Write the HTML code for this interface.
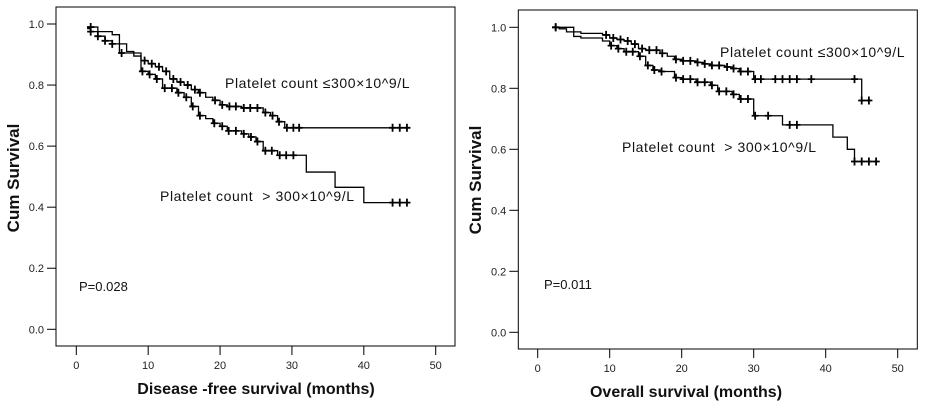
<!DOCTYPE html>
<html><head><meta charset="utf-8">
<style>
html,body{margin:0;padding:0;background:#fff;}
svg{display:block;font-family:"Liberation Sans",Arial,sans-serif;}
</style></head>
<body>
<svg id="fig" width="926" height="405" viewBox="0 0 926 405"></svg>
<script>
// ---- Data: left chart (disease-free survival) ----
const dfsLowTimes = [1.5,3,5,6,7,8,9,10,11,12,13,14,15,16,17,18,19,20,21,23,26,27,28,29];
const dfsLowSurv  = [0.99,0.975,0.965,0.935,0.91,0.895,0.88,0.87,0.86,0.845,0.82,0.81,0.80,0.785,0.775,0.76,0.75,0.735,0.73,0.725,0.71,0.70,0.68,0.66];
const dfsLowEnd = 46;
const dfsLowCens = [2,9.5,10.5,11.5,12.5,13.5,14.5,15.5,16.5,17.2,19.3,20.3,21.3,22.2,23.3,24.2,25.2,26.3,27.3,28.2,29.3,30.2,31,44,45,46];
const dfsHighTimes = [1.5,2,3,4,5,6,9,10,11,12,14,15,16,17,18,19,20,21,23,24,25,26,28,32,36,40];
const dfsHighSurv  = [0.985,0.975,0.96,0.945,0.935,0.905,0.845,0.835,0.82,0.79,0.775,0.76,0.73,0.70,0.69,0.675,0.665,0.65,0.64,0.63,0.615,0.585,0.57,0.515,0.465,0.415];
const dfsHighEnd = 46;
const dfsHighCens = [2,3,4,5,6.3,9.2,10.2,11.2,12.3,13.3,14.2,15.3,16.2,17.2,19.2,20.3,21.2,22.2,23.3,24.3,25.2,26.3,27.2,28.3,29.2,30.2,44,45,46];

// ---- Data: right chart (overall survival) ----
const osLowTimes = [2,5,6,9,10,11,12,13,14,15,17,18,19,20,22,23,24,26,27,28,30,45];
const osLowSurv  = [1.0,0.985,0.98,0.975,0.965,0.96,0.955,0.945,0.93,0.925,0.915,0.905,0.895,0.89,0.885,0.88,0.875,0.87,0.865,0.855,0.83,0.76];
const osLowEnd = 46.3;
const osLowCens = [2.5,9.5,10.5,11.5,12.5,13.5,14.5,15.5,16.5,17.3,19.2,20.2,21.2,22.2,23.2,24.2,25.2,26.3,27.2,28.2,29.2,30.2,31,33,34,35,36,38,44,45,46];
const osHighTimes = [2,3,4,5,6,9,10,11,12,14,15,16,17,19,20,22,24,25,27,28,30,34,41,43,44];
const osHighSurv  = [1.0,0.995,0.985,0.97,0.965,0.955,0.94,0.93,0.92,0.905,0.875,0.86,0.855,0.835,0.83,0.82,0.81,0.79,0.78,0.765,0.71,0.68,0.64,0.60,0.56];
const osHighEnd = 47.5;
const osHighCens = [2.5,10.2,11.2,12.3,13.2,14.2,15.3,16.2,17.2,19.2,20.2,21.2,22.2,23.2,24.2,25.2,26.2,27.2,28.2,29.2,30.2,32,35,36,44,45,46,47];

const xTicks = [0,10,20,30,40,50];
const yTicks = [0,0.2,0.4,0.6,0.8,1.0];

const NS = "http://www.w3.org/2000/svg";
const svg = document.getElementById('fig');
function mk(tag, attrs, parent){
  const e = document.createElementNS(NS, tag);
  for (const k in attrs) e.setAttribute(k, attrs[k]);
  (parent||svg).appendChild(e);
  return e;
}

function stepValue(times, surv, t){
  let v = 1.0;
  for (let i=0;i<times.length;i++){ if (times[i] <= t) v = surv[i]; }
  return v;
}

function drawChart(cfg){
  const g = mk('g', {});
  
  
  const xs = t => cfg.x0 + (t/50)*(cfg.x50 - cfg.x0);
  const ys = v => cfg.y0 - v*(cfg.y0 - cfg.y1);
  const frame = mk('rect', {x:cfg.fl, y:cfg.ft, width:cfg.fr-cfg.fl, height:cfg.fb-cfg.ft, fill:'none', stroke:'#000', 'stroke-width':1}, g);
  
  
  yTicks.forEach(v=>{
    const y = ys(v);
    const tk = mk('line', {x1:cfg.fl-9, x2:cfg.fl, y1:y, y2:y, stroke:'#000'}, g);
    
    
    const lb = mk('text', {x:cfg.fl-12, y:y+4, 'text-anchor':'end', 'font-size':11, fill:'#222'}, g);
    lb.textContent = v.toFixed(1);
    
    
  });
  xTicks.forEach(t=>{
    const x = xs(t);
    const tk = mk('line', {x1:x, x2:x, y1:cfg.fb, y2:cfg.fb+9, stroke:'#000'}, g);
    
    
    const lb = mk('text', {x:x, y:cfg.fb+23, 'text-anchor':'middle', 'font-size':11, fill:'#222'}, g);
    lb.textContent = String(t);
    
    
  });
  cfg.series.forEach(s=>{
    let d = 'M' + xs(s.times[0]) + ',' + ys(s.surv[0]);
    for (let i=1;i<s.times.length;i++){
      d += ' H' + xs(s.times[i]) + ' V' + ys(s.surv[i]);
    }
    d += ' H' + xs(s.end);
    const p = mk('path', {d:d, fill:'none', stroke:'#000', 'stroke-width':1.3}, g);
    
    
    s.cens.forEach(t=>{
      const x = xs(t), y = ys(stepValue(s.times, s.surv, t));
      const c = mk('path', {d:'M'+(x-3.5)+','+y+' H'+(x+3.5)+' M'+x+','+(y-4)+' V'+(y+4), stroke:'#000', 'stroke-width':1.8}, g);
      
      
    });
  });
  cfg.texts.forEach(tx=>{
    const e = mk('text', {x:tx.x, y:tx.y, 'font-size':tx.size, fill:'#111', 'font-weight':tx.bold?'bold':'normal', 'text-anchor':tx.anchor||'start', 'letter-spacing':tx.ls||0, transform:tx.rot?('rotate(-90 '+tx.x+' '+tx.y+')'):''}, g);
    e.textContent = tx.t;
    
    
  });
}

drawChart({
  name:'dfs-chart', fl:56, fr:455, ft:7, fb:346, x0:76.3, x50:435.7, y0:329.3, y1:24,
  series:[
    {name:'dfs-low-platelet', times:dfsLowTimes, surv:dfsLowSurv, end:dfsLowEnd, cens:dfsLowCens},
    {name:'dfs-high-platelet', times:dfsHighTimes, surv:dfsHighSurv, end:dfsHighEnd, cens:dfsHighCens}
  ],
  texts:[
    {t:'Platelet count \u2264300\u00d710^9/L', x:225, y:88, size:14, ls:0.6, name:'label-low-platelet'},
    {t:'Platelet count \u00a0> 300\u00d710^9/L', x:160, y:201, size:14, ls:0.6, name:'label-high-platelet'},
    {t:'P=0.028', x:79, y:291, size:13, name:'p-value'},
    {t:'Cum Survival', x:19, y:178, size:17, bold:true, rot:true, anchor:'middle', name:'y-axis-title'},
    {t:'Disease -free survival (months)', x:256, y:394, size:16, bold:true, anchor:'middle', name:'x-axis-title'}
  ]
});

drawChart({
  name:'os-chart', fl:518.3, fr:917.3, ft:10, fb:349, x0:537.7, x50:897.7, y0:332.3, y1:27.3,
  series:[
    {name:'os-low-platelet', times:osLowTimes, surv:osLowSurv, end:osLowEnd, cens:osLowCens},
    {name:'os-high-platelet', times:osHighTimes, surv:osHighSurv, end:osHighEnd, cens:osHighCens}
  ],
  texts:[
    {t:'Platelet count \u2264300\u00d710^9/L', x:720, y:57, size:14, ls:0.6, name:'label-low-platelet'},
    {t:'Platelet count \u00a0> 300\u00d710^9/L', x:622, y:152, size:14, ls:0.6, name:'label-high-platelet'},
    {t:'P=0.011', x:544, y:289, size:13, name:'p-value'},
    {t:'Cum Survival', x:481, y:180, size:17, bold:true, rot:true, anchor:'middle', name:'y-axis-title'},
    {t:'Overall survival (months)', x:686, y:397, size:16, bold:true, anchor:'middle', name:'x-axis-title'}
  ]
});
</script>
</body></html>
